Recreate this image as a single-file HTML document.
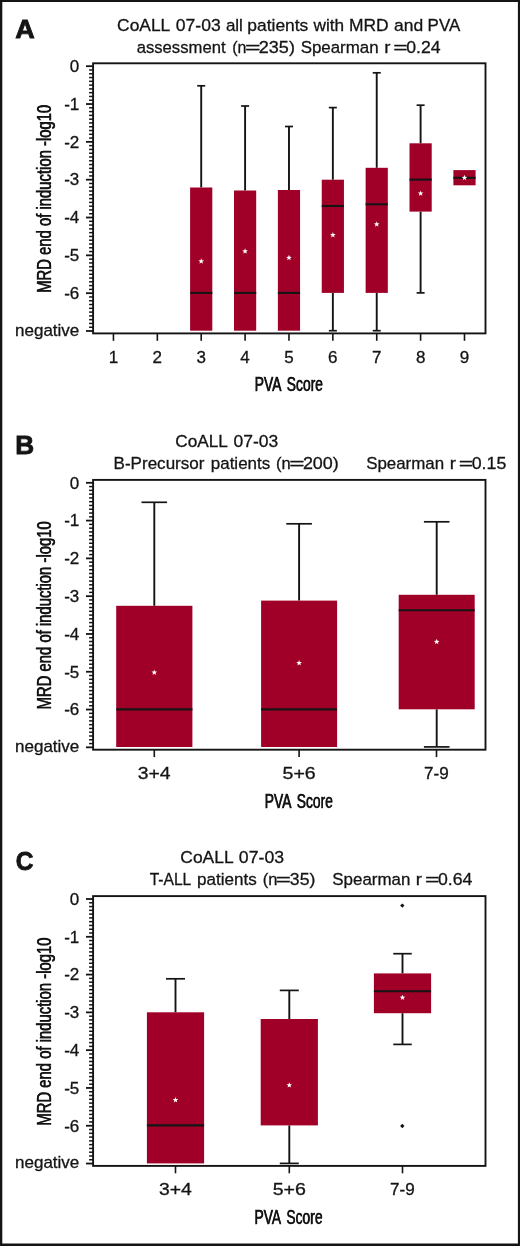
<!DOCTYPE html>
<html lang="en"><head><meta charset="utf-8"><title>Figure</title>
<style>
html,body{margin:0;padding:0;background:#fff}
svg text{stroke:#141414;stroke-width:0.3px}
.cl{position:absolute;left:0;top:0;transform-origin:0 0;line-height:1;white-space:nowrap;color:#141414;font-family:"Liberation Sans",Arial,Helvetica,sans-serif}
#fig{position:relative;width:520px;height:1246px;overflow:hidden}
svg{display:block;will-change:transform;font-family:"Liberation Sans",Arial,Helvetica,sans-serif}
</style></head><body>
<div id="fig">
<svg width="520" height="1246" viewBox="0 0 520 1246">
<rect x="0" y="0" width="520" height="1246" fill="#fff"/>
<path d="M0 0H520V1246H0Z M2.3 2H517.9V1243.5H2.3Z" fill="#141414" fill-rule="evenodd"/>
<rect x="93.1" y="63.30" width="392.40" height="270.10" fill="none" stroke="#141414" stroke-width="1.9"/>
<line x1="86.00" y1="66.20" x2="93.10" y2="66.20" stroke="#141414" stroke-width="1.8"/>
<text x="79.3" y="72.00" font-size="17.0" text-anchor="end" fill="#141414">0</text>
<line x1="89.10" y1="69.98" x2="93.10" y2="69.98" stroke="#141414" stroke-width="1.5"/>
<line x1="89.10" y1="73.77" x2="93.10" y2="73.77" stroke="#141414" stroke-width="1.5"/>
<line x1="89.10" y1="77.55" x2="93.10" y2="77.55" stroke="#141414" stroke-width="1.5"/>
<line x1="89.10" y1="81.33" x2="93.10" y2="81.33" stroke="#141414" stroke-width="1.5"/>
<line x1="89.10" y1="85.12" x2="93.10" y2="85.12" stroke="#141414" stroke-width="1.5"/>
<line x1="89.10" y1="88.90" x2="93.10" y2="88.90" stroke="#141414" stroke-width="1.5"/>
<line x1="89.10" y1="92.68" x2="93.10" y2="92.68" stroke="#141414" stroke-width="1.5"/>
<line x1="89.10" y1="96.46" x2="93.10" y2="96.46" stroke="#141414" stroke-width="1.5"/>
<line x1="89.10" y1="100.25" x2="93.10" y2="100.25" stroke="#141414" stroke-width="1.5"/>
<line x1="86.00" y1="104.03" x2="93.10" y2="104.03" stroke="#141414" stroke-width="1.8"/>
<text x="79.3" y="109.83" font-size="17.0" text-anchor="end" fill="#141414">-1</text>
<line x1="89.10" y1="107.81" x2="93.10" y2="107.81" stroke="#141414" stroke-width="1.5"/>
<line x1="89.10" y1="111.60" x2="93.10" y2="111.60" stroke="#141414" stroke-width="1.5"/>
<line x1="89.10" y1="115.38" x2="93.10" y2="115.38" stroke="#141414" stroke-width="1.5"/>
<line x1="89.10" y1="119.16" x2="93.10" y2="119.16" stroke="#141414" stroke-width="1.5"/>
<line x1="89.10" y1="122.94" x2="93.10" y2="122.94" stroke="#141414" stroke-width="1.5"/>
<line x1="89.10" y1="126.73" x2="93.10" y2="126.73" stroke="#141414" stroke-width="1.5"/>
<line x1="89.10" y1="130.51" x2="93.10" y2="130.51" stroke="#141414" stroke-width="1.5"/>
<line x1="89.10" y1="134.29" x2="93.10" y2="134.29" stroke="#141414" stroke-width="1.5"/>
<line x1="89.10" y1="138.08" x2="93.10" y2="138.08" stroke="#141414" stroke-width="1.5"/>
<line x1="86.00" y1="141.86" x2="93.10" y2="141.86" stroke="#141414" stroke-width="1.8"/>
<text x="79.3" y="147.66" font-size="17.0" text-anchor="end" fill="#141414">-2</text>
<line x1="89.10" y1="145.64" x2="93.10" y2="145.64" stroke="#141414" stroke-width="1.5"/>
<line x1="89.10" y1="149.43" x2="93.10" y2="149.43" stroke="#141414" stroke-width="1.5"/>
<line x1="89.10" y1="153.21" x2="93.10" y2="153.21" stroke="#141414" stroke-width="1.5"/>
<line x1="89.10" y1="156.99" x2="93.10" y2="156.99" stroke="#141414" stroke-width="1.5"/>
<line x1="89.10" y1="160.78" x2="93.10" y2="160.78" stroke="#141414" stroke-width="1.5"/>
<line x1="89.10" y1="164.56" x2="93.10" y2="164.56" stroke="#141414" stroke-width="1.5"/>
<line x1="89.10" y1="168.34" x2="93.10" y2="168.34" stroke="#141414" stroke-width="1.5"/>
<line x1="89.10" y1="172.12" x2="93.10" y2="172.12" stroke="#141414" stroke-width="1.5"/>
<line x1="89.10" y1="175.91" x2="93.10" y2="175.91" stroke="#141414" stroke-width="1.5"/>
<line x1="86.00" y1="179.69" x2="93.10" y2="179.69" stroke="#141414" stroke-width="1.8"/>
<text x="79.3" y="185.49" font-size="17.0" text-anchor="end" fill="#141414">-3</text>
<line x1="89.10" y1="183.47" x2="93.10" y2="183.47" stroke="#141414" stroke-width="1.5"/>
<line x1="89.10" y1="187.26" x2="93.10" y2="187.26" stroke="#141414" stroke-width="1.5"/>
<line x1="89.10" y1="191.04" x2="93.10" y2="191.04" stroke="#141414" stroke-width="1.5"/>
<line x1="89.10" y1="194.82" x2="93.10" y2="194.82" stroke="#141414" stroke-width="1.5"/>
<line x1="89.10" y1="198.60" x2="93.10" y2="198.60" stroke="#141414" stroke-width="1.5"/>
<line x1="89.10" y1="202.39" x2="93.10" y2="202.39" stroke="#141414" stroke-width="1.5"/>
<line x1="89.10" y1="206.17" x2="93.10" y2="206.17" stroke="#141414" stroke-width="1.5"/>
<line x1="89.10" y1="209.95" x2="93.10" y2="209.95" stroke="#141414" stroke-width="1.5"/>
<line x1="89.10" y1="213.74" x2="93.10" y2="213.74" stroke="#141414" stroke-width="1.5"/>
<line x1="86.00" y1="217.52" x2="93.10" y2="217.52" stroke="#141414" stroke-width="1.8"/>
<text x="79.3" y="223.32" font-size="17.0" text-anchor="end" fill="#141414">-4</text>
<line x1="89.10" y1="221.30" x2="93.10" y2="221.30" stroke="#141414" stroke-width="1.5"/>
<line x1="89.10" y1="225.09" x2="93.10" y2="225.09" stroke="#141414" stroke-width="1.5"/>
<line x1="89.10" y1="228.87" x2="93.10" y2="228.87" stroke="#141414" stroke-width="1.5"/>
<line x1="89.10" y1="232.65" x2="93.10" y2="232.65" stroke="#141414" stroke-width="1.5"/>
<line x1="89.10" y1="236.43" x2="93.10" y2="236.43" stroke="#141414" stroke-width="1.5"/>
<line x1="89.10" y1="240.22" x2="93.10" y2="240.22" stroke="#141414" stroke-width="1.5"/>
<line x1="89.10" y1="244.00" x2="93.10" y2="244.00" stroke="#141414" stroke-width="1.5"/>
<line x1="89.10" y1="247.78" x2="93.10" y2="247.78" stroke="#141414" stroke-width="1.5"/>
<line x1="89.10" y1="251.57" x2="93.10" y2="251.57" stroke="#141414" stroke-width="1.5"/>
<line x1="86.00" y1="255.35" x2="93.10" y2="255.35" stroke="#141414" stroke-width="1.8"/>
<text x="79.3" y="261.15" font-size="17.0" text-anchor="end" fill="#141414">-5</text>
<line x1="89.10" y1="259.13" x2="93.10" y2="259.13" stroke="#141414" stroke-width="1.5"/>
<line x1="89.10" y1="262.92" x2="93.10" y2="262.92" stroke="#141414" stroke-width="1.5"/>
<line x1="89.10" y1="266.70" x2="93.10" y2="266.70" stroke="#141414" stroke-width="1.5"/>
<line x1="89.10" y1="270.48" x2="93.10" y2="270.48" stroke="#141414" stroke-width="1.5"/>
<line x1="89.10" y1="274.26" x2="93.10" y2="274.26" stroke="#141414" stroke-width="1.5"/>
<line x1="89.10" y1="278.05" x2="93.10" y2="278.05" stroke="#141414" stroke-width="1.5"/>
<line x1="89.10" y1="281.83" x2="93.10" y2="281.83" stroke="#141414" stroke-width="1.5"/>
<line x1="89.10" y1="285.61" x2="93.10" y2="285.61" stroke="#141414" stroke-width="1.5"/>
<line x1="89.10" y1="289.40" x2="93.10" y2="289.40" stroke="#141414" stroke-width="1.5"/>
<line x1="86.00" y1="293.18" x2="93.10" y2="293.18" stroke="#141414" stroke-width="1.8"/>
<text x="79.3" y="298.98" font-size="17.0" text-anchor="end" fill="#141414">-6</text>
<line x1="89.10" y1="296.96" x2="93.10" y2="296.96" stroke="#141414" stroke-width="1.5"/>
<line x1="89.10" y1="300.75" x2="93.10" y2="300.75" stroke="#141414" stroke-width="1.5"/>
<line x1="89.10" y1="304.53" x2="93.10" y2="304.53" stroke="#141414" stroke-width="1.5"/>
<line x1="89.10" y1="308.31" x2="93.10" y2="308.31" stroke="#141414" stroke-width="1.5"/>
<line x1="89.10" y1="312.10" x2="93.10" y2="312.10" stroke="#141414" stroke-width="1.5"/>
<line x1="89.10" y1="315.88" x2="93.10" y2="315.88" stroke="#141414" stroke-width="1.5"/>
<line x1="89.10" y1="319.66" x2="93.10" y2="319.66" stroke="#141414" stroke-width="1.5"/>
<line x1="89.10" y1="323.44" x2="93.10" y2="323.44" stroke="#141414" stroke-width="1.5"/>
<line x1="89.10" y1="327.23" x2="93.10" y2="327.23" stroke="#141414" stroke-width="1.5"/>
<line x1="86.00" y1="331.01" x2="93.10" y2="331.01" stroke="#141414" stroke-width="1.8"/>
<text x="79.3" y="335.81" font-size="17.0" text-anchor="end" fill="#141414">negative</text>
<line x1="113.45" y1="333.40" x2="113.45" y2="340.80" stroke="#141414" stroke-width="1.6"/>
<text x="113.45" y="362.60" font-size="17.0" text-anchor="middle" fill="#141414">1</text>
<line x1="157.33" y1="333.40" x2="157.33" y2="340.80" stroke="#141414" stroke-width="1.6"/>
<text x="157.33" y="362.60" font-size="17.0" text-anchor="middle" fill="#141414">2</text>
<line x1="201.21" y1="333.40" x2="201.21" y2="340.80" stroke="#141414" stroke-width="1.6"/>
<text x="201.21" y="362.60" font-size="17.0" text-anchor="middle" fill="#141414">3</text>
<line x1="245.09" y1="333.40" x2="245.09" y2="340.80" stroke="#141414" stroke-width="1.6"/>
<text x="245.09" y="362.60" font-size="17.0" text-anchor="middle" fill="#141414">4</text>
<line x1="288.97" y1="333.40" x2="288.97" y2="340.80" stroke="#141414" stroke-width="1.6"/>
<text x="288.97" y="362.60" font-size="17.0" text-anchor="middle" fill="#141414">5</text>
<line x1="332.85" y1="333.40" x2="332.85" y2="340.80" stroke="#141414" stroke-width="1.6"/>
<text x="332.85" y="362.60" font-size="17.0" text-anchor="middle" fill="#141414">6</text>
<line x1="376.73" y1="333.40" x2="376.73" y2="340.80" stroke="#141414" stroke-width="1.6"/>
<text x="376.73" y="362.60" font-size="17.0" text-anchor="middle" fill="#141414">7</text>
<line x1="420.61" y1="333.40" x2="420.61" y2="340.80" stroke="#141414" stroke-width="1.6"/>
<text x="420.61" y="362.60" font-size="17.0" text-anchor="middle" fill="#141414">8</text>
<line x1="464.49" y1="333.40" x2="464.49" y2="340.80" stroke="#141414" stroke-width="1.6"/>
<text x="464.49" y="362.60" font-size="17.0" text-anchor="middle" fill="#141414">9</text>
<line x1="201.21" y1="85.80" x2="201.21" y2="187.50" stroke="#141414" stroke-width="1.9"/>
<line x1="197.21" y1="85.80" x2="205.21" y2="85.80" stroke="#141414" stroke-width="1.7"/>
<rect x="190.11" y="187.50" width="22.20" height="143.20" fill="#a00028"/>
<line x1="190.11" y1="292.90" x2="212.31" y2="292.90" stroke="#141414" stroke-width="2.1"/>
<polygon points="201.21,258.35 201.94,260.30 204.02,260.39 202.39,261.68 202.94,263.69 201.21,262.54 199.48,263.69 200.03,261.68 198.40,260.39 200.48,260.30" fill="#fff"/>
<line x1="245.09" y1="106.00" x2="245.09" y2="190.50" stroke="#141414" stroke-width="1.9"/>
<line x1="241.09" y1="106.00" x2="249.09" y2="106.00" stroke="#141414" stroke-width="1.7"/>
<rect x="233.99" y="190.50" width="22.20" height="140.20" fill="#a00028"/>
<line x1="233.99" y1="292.90" x2="256.19" y2="292.90" stroke="#141414" stroke-width="2.1"/>
<polygon points="245.09,248.35 245.82,250.30 247.90,250.39 246.27,251.68 246.82,253.69 245.09,252.54 243.36,253.69 243.91,251.68 242.28,250.39 244.36,250.30" fill="#fff"/>
<line x1="288.97" y1="126.50" x2="288.97" y2="190.00" stroke="#141414" stroke-width="1.9"/>
<line x1="284.97" y1="126.50" x2="292.97" y2="126.50" stroke="#141414" stroke-width="1.7"/>
<rect x="277.87" y="190.00" width="22.20" height="140.70" fill="#a00028"/>
<line x1="277.87" y1="292.90" x2="300.07" y2="292.90" stroke="#141414" stroke-width="2.1"/>
<polygon points="288.97,254.85 289.70,256.80 291.78,256.89 290.15,258.18 290.70,260.19 288.97,259.04 287.24,260.19 287.79,258.18 286.16,256.89 288.24,256.80" fill="#fff"/>
<line x1="332.85" y1="107.60" x2="332.85" y2="179.70" stroke="#141414" stroke-width="1.9"/>
<line x1="328.85" y1="107.60" x2="336.85" y2="107.60" stroke="#141414" stroke-width="1.7"/>
<line x1="332.85" y1="292.90" x2="332.85" y2="330.70" stroke="#141414" stroke-width="1.9"/>
<line x1="328.85" y1="330.70" x2="336.85" y2="330.70" stroke="#141414" stroke-width="1.7"/>
<rect x="321.75" y="179.70" width="22.20" height="113.20" fill="#a00028"/>
<line x1="321.75" y1="206.00" x2="343.95" y2="206.00" stroke="#141414" stroke-width="2.1"/>
<polygon points="332.85,232.05 333.58,234.00 335.66,234.09 334.03,235.38 334.58,237.39 332.85,236.24 331.12,237.39 331.67,235.38 330.04,234.09 332.12,234.00" fill="#fff"/>
<line x1="376.73" y1="72.80" x2="376.73" y2="167.80" stroke="#141414" stroke-width="1.9"/>
<line x1="372.73" y1="72.80" x2="380.73" y2="72.80" stroke="#141414" stroke-width="1.7"/>
<line x1="376.73" y1="292.90" x2="376.73" y2="330.70" stroke="#141414" stroke-width="1.9"/>
<line x1="372.73" y1="330.70" x2="380.73" y2="330.70" stroke="#141414" stroke-width="1.7"/>
<rect x="365.63" y="167.80" width="22.20" height="125.10" fill="#a00028"/>
<line x1="365.63" y1="204.30" x2="387.83" y2="204.30" stroke="#141414" stroke-width="2.1"/>
<polygon points="376.73,221.35 377.46,223.30 379.54,223.39 377.91,224.68 378.46,226.69 376.73,225.54 375.00,226.69 375.55,224.68 373.92,223.39 376.00,223.30" fill="#fff"/>
<line x1="420.61" y1="105.20" x2="420.61" y2="143.30" stroke="#141414" stroke-width="1.9"/>
<line x1="416.61" y1="105.20" x2="424.61" y2="105.20" stroke="#141414" stroke-width="1.7"/>
<line x1="420.61" y1="211.60" x2="420.61" y2="292.90" stroke="#141414" stroke-width="1.9"/>
<line x1="416.61" y1="292.90" x2="424.61" y2="292.90" stroke="#141414" stroke-width="1.7"/>
<rect x="409.51" y="143.30" width="22.20" height="68.30" fill="#a00028"/>
<line x1="409.51" y1="179.60" x2="431.71" y2="179.60" stroke="#141414" stroke-width="2.1"/>
<polygon points="420.61,190.45 421.34,192.40 423.42,192.49 421.79,193.78 422.34,195.79 420.61,194.64 418.88,195.79 419.43,193.78 417.80,192.49 419.88,192.40" fill="#fff"/>
<rect x="453.39" y="170.10" width="22.20" height="15.20" fill="#a00028"/>
<line x1="453.39" y1="177.80" x2="475.59" y2="177.80" stroke="#141414" stroke-width="2.1"/>
<polygon points="464.49,174.85 465.22,176.80 467.30,176.89 465.67,178.18 466.22,180.19 464.49,179.04 462.76,180.19 463.31,178.18 461.68,176.89 463.76,176.80" fill="#fff"/>
<text x="117.13" y="31.00" font-size="17.2" textLength="53.14" lengthAdjust="spacingAndGlyphs" fill="#141414">CoALL</text>
<text x="175.84" y="31.00" font-size="17.2" textLength="44.91" lengthAdjust="spacingAndGlyphs" fill="#141414">07-03</text>
<text x="225.88" y="31.00" font-size="17.2" textLength="16.98" lengthAdjust="spacingAndGlyphs" fill="#141414">all</text>
<text x="247.37" y="31.00" font-size="17.2" textLength="60.94" lengthAdjust="spacingAndGlyphs" fill="#141414">patients</text>
<text x="313.44" y="31.00" font-size="17.2" textLength="30.65" lengthAdjust="spacingAndGlyphs" fill="#141414">with</text>
<text x="348.96" y="31.00" font-size="17.2" textLength="39.77" lengthAdjust="spacingAndGlyphs" fill="#141414">MRD</text>
<text x="393.96" y="31.00" font-size="17.2" textLength="29.15" lengthAdjust="spacingAndGlyphs" fill="#141414">and</text>
<text x="427.60" y="31.00" font-size="17.2" textLength="32.63" lengthAdjust="spacingAndGlyphs" fill="#141414">PVA</text>
<text x="136.69" y="53.00" font-size="17.2" textLength="88.84" lengthAdjust="spacingAndGlyphs" fill="#141414">assessment</text>
<text x="232.20" y="53.00" font-size="17.2" textLength="14.23" lengthAdjust="spacingAndGlyphs" fill="#141414">(n</text>
<text x="244.93" y="53.00" font-size="17.2" textLength="15.57" lengthAdjust="spacingAndGlyphs" fill="#141414">=</text>
<text x="258.80" y="53.00" font-size="17.2" textLength="36.11" lengthAdjust="spacingAndGlyphs" fill="#141414">235)</text>
<text x="300.64" y="53.00" font-size="17.2" textLength="78.04" lengthAdjust="spacingAndGlyphs" fill="#141414">Spearman</text>
<text x="393.23" y="53.00" font-size="17.2" textLength="14.38" lengthAdjust="spacingAndGlyphs" fill="#141414">=</text>
<text x="406.24" y="53.00" font-size="17.2" textLength="34.37" lengthAdjust="spacingAndGlyphs" fill="#141414">0.24</text>
<text x="384.15" y="53.00" font-size="17.2" textLength="6.19" lengthAdjust="spacingAndGlyphs" fill="#141414">r</text>
<rect x="93.1" y="479.90" width="392.40" height="269.80" fill="none" stroke="#141414" stroke-width="1.9"/>
<line x1="86.00" y1="482.80" x2="93.10" y2="482.80" stroke="#141414" stroke-width="1.8"/>
<text x="79.3" y="488.60" font-size="17.0" text-anchor="end" fill="#141414">0</text>
<line x1="89.10" y1="486.58" x2="93.10" y2="486.58" stroke="#141414" stroke-width="1.5"/>
<line x1="89.10" y1="490.36" x2="93.10" y2="490.36" stroke="#141414" stroke-width="1.5"/>
<line x1="89.10" y1="494.14" x2="93.10" y2="494.14" stroke="#141414" stroke-width="1.5"/>
<line x1="89.10" y1="497.92" x2="93.10" y2="497.92" stroke="#141414" stroke-width="1.5"/>
<line x1="89.10" y1="501.69" x2="93.10" y2="501.69" stroke="#141414" stroke-width="1.5"/>
<line x1="89.10" y1="505.47" x2="93.10" y2="505.47" stroke="#141414" stroke-width="1.5"/>
<line x1="89.10" y1="509.25" x2="93.10" y2="509.25" stroke="#141414" stroke-width="1.5"/>
<line x1="89.10" y1="513.03" x2="93.10" y2="513.03" stroke="#141414" stroke-width="1.5"/>
<line x1="89.10" y1="516.81" x2="93.10" y2="516.81" stroke="#141414" stroke-width="1.5"/>
<line x1="86.00" y1="520.59" x2="93.10" y2="520.59" stroke="#141414" stroke-width="1.8"/>
<text x="79.3" y="526.39" font-size="17.0" text-anchor="end" fill="#141414">-1</text>
<line x1="89.10" y1="524.37" x2="93.10" y2="524.37" stroke="#141414" stroke-width="1.5"/>
<line x1="89.10" y1="528.15" x2="93.10" y2="528.15" stroke="#141414" stroke-width="1.5"/>
<line x1="89.10" y1="531.93" x2="93.10" y2="531.93" stroke="#141414" stroke-width="1.5"/>
<line x1="89.10" y1="535.71" x2="93.10" y2="535.71" stroke="#141414" stroke-width="1.5"/>
<line x1="89.10" y1="539.49" x2="93.10" y2="539.49" stroke="#141414" stroke-width="1.5"/>
<line x1="89.10" y1="543.26" x2="93.10" y2="543.26" stroke="#141414" stroke-width="1.5"/>
<line x1="89.10" y1="547.04" x2="93.10" y2="547.04" stroke="#141414" stroke-width="1.5"/>
<line x1="89.10" y1="550.82" x2="93.10" y2="550.82" stroke="#141414" stroke-width="1.5"/>
<line x1="89.10" y1="554.60" x2="93.10" y2="554.60" stroke="#141414" stroke-width="1.5"/>
<line x1="86.00" y1="558.38" x2="93.10" y2="558.38" stroke="#141414" stroke-width="1.8"/>
<text x="79.3" y="564.18" font-size="17.0" text-anchor="end" fill="#141414">-2</text>
<line x1="89.10" y1="562.16" x2="93.10" y2="562.16" stroke="#141414" stroke-width="1.5"/>
<line x1="89.10" y1="565.94" x2="93.10" y2="565.94" stroke="#141414" stroke-width="1.5"/>
<line x1="89.10" y1="569.72" x2="93.10" y2="569.72" stroke="#141414" stroke-width="1.5"/>
<line x1="89.10" y1="573.50" x2="93.10" y2="573.50" stroke="#141414" stroke-width="1.5"/>
<line x1="89.10" y1="577.27" x2="93.10" y2="577.27" stroke="#141414" stroke-width="1.5"/>
<line x1="89.10" y1="581.05" x2="93.10" y2="581.05" stroke="#141414" stroke-width="1.5"/>
<line x1="89.10" y1="584.83" x2="93.10" y2="584.83" stroke="#141414" stroke-width="1.5"/>
<line x1="89.10" y1="588.61" x2="93.10" y2="588.61" stroke="#141414" stroke-width="1.5"/>
<line x1="89.10" y1="592.39" x2="93.10" y2="592.39" stroke="#141414" stroke-width="1.5"/>
<line x1="86.00" y1="596.17" x2="93.10" y2="596.17" stroke="#141414" stroke-width="1.8"/>
<text x="79.3" y="601.97" font-size="17.0" text-anchor="end" fill="#141414">-3</text>
<line x1="89.10" y1="599.95" x2="93.10" y2="599.95" stroke="#141414" stroke-width="1.5"/>
<line x1="89.10" y1="603.73" x2="93.10" y2="603.73" stroke="#141414" stroke-width="1.5"/>
<line x1="89.10" y1="607.51" x2="93.10" y2="607.51" stroke="#141414" stroke-width="1.5"/>
<line x1="89.10" y1="611.29" x2="93.10" y2="611.29" stroke="#141414" stroke-width="1.5"/>
<line x1="89.10" y1="615.07" x2="93.10" y2="615.07" stroke="#141414" stroke-width="1.5"/>
<line x1="89.10" y1="618.84" x2="93.10" y2="618.84" stroke="#141414" stroke-width="1.5"/>
<line x1="89.10" y1="622.62" x2="93.10" y2="622.62" stroke="#141414" stroke-width="1.5"/>
<line x1="89.10" y1="626.40" x2="93.10" y2="626.40" stroke="#141414" stroke-width="1.5"/>
<line x1="89.10" y1="630.18" x2="93.10" y2="630.18" stroke="#141414" stroke-width="1.5"/>
<line x1="86.00" y1="633.96" x2="93.10" y2="633.96" stroke="#141414" stroke-width="1.8"/>
<text x="79.3" y="639.76" font-size="17.0" text-anchor="end" fill="#141414">-4</text>
<line x1="89.10" y1="637.74" x2="93.10" y2="637.74" stroke="#141414" stroke-width="1.5"/>
<line x1="89.10" y1="641.52" x2="93.10" y2="641.52" stroke="#141414" stroke-width="1.5"/>
<line x1="89.10" y1="645.30" x2="93.10" y2="645.30" stroke="#141414" stroke-width="1.5"/>
<line x1="89.10" y1="649.08" x2="93.10" y2="649.08" stroke="#141414" stroke-width="1.5"/>
<line x1="89.10" y1="652.86" x2="93.10" y2="652.86" stroke="#141414" stroke-width="1.5"/>
<line x1="89.10" y1="656.63" x2="93.10" y2="656.63" stroke="#141414" stroke-width="1.5"/>
<line x1="89.10" y1="660.41" x2="93.10" y2="660.41" stroke="#141414" stroke-width="1.5"/>
<line x1="89.10" y1="664.19" x2="93.10" y2="664.19" stroke="#141414" stroke-width="1.5"/>
<line x1="89.10" y1="667.97" x2="93.10" y2="667.97" stroke="#141414" stroke-width="1.5"/>
<line x1="86.00" y1="671.75" x2="93.10" y2="671.75" stroke="#141414" stroke-width="1.8"/>
<text x="79.3" y="677.55" font-size="17.0" text-anchor="end" fill="#141414">-5</text>
<line x1="89.10" y1="675.53" x2="93.10" y2="675.53" stroke="#141414" stroke-width="1.5"/>
<line x1="89.10" y1="679.31" x2="93.10" y2="679.31" stroke="#141414" stroke-width="1.5"/>
<line x1="89.10" y1="683.09" x2="93.10" y2="683.09" stroke="#141414" stroke-width="1.5"/>
<line x1="89.10" y1="686.87" x2="93.10" y2="686.87" stroke="#141414" stroke-width="1.5"/>
<line x1="89.10" y1="690.64" x2="93.10" y2="690.64" stroke="#141414" stroke-width="1.5"/>
<line x1="89.10" y1="694.42" x2="93.10" y2="694.42" stroke="#141414" stroke-width="1.5"/>
<line x1="89.10" y1="698.20" x2="93.10" y2="698.20" stroke="#141414" stroke-width="1.5"/>
<line x1="89.10" y1="701.98" x2="93.10" y2="701.98" stroke="#141414" stroke-width="1.5"/>
<line x1="89.10" y1="705.76" x2="93.10" y2="705.76" stroke="#141414" stroke-width="1.5"/>
<line x1="86.00" y1="709.54" x2="93.10" y2="709.54" stroke="#141414" stroke-width="1.8"/>
<text x="79.3" y="715.34" font-size="17.0" text-anchor="end" fill="#141414">-6</text>
<line x1="89.10" y1="713.32" x2="93.10" y2="713.32" stroke="#141414" stroke-width="1.5"/>
<line x1="89.10" y1="717.10" x2="93.10" y2="717.10" stroke="#141414" stroke-width="1.5"/>
<line x1="89.10" y1="720.88" x2="93.10" y2="720.88" stroke="#141414" stroke-width="1.5"/>
<line x1="89.10" y1="724.66" x2="93.10" y2="724.66" stroke="#141414" stroke-width="1.5"/>
<line x1="89.10" y1="728.43" x2="93.10" y2="728.43" stroke="#141414" stroke-width="1.5"/>
<line x1="89.10" y1="732.21" x2="93.10" y2="732.21" stroke="#141414" stroke-width="1.5"/>
<line x1="89.10" y1="735.99" x2="93.10" y2="735.99" stroke="#141414" stroke-width="1.5"/>
<line x1="89.10" y1="739.77" x2="93.10" y2="739.77" stroke="#141414" stroke-width="1.5"/>
<line x1="89.10" y1="743.55" x2="93.10" y2="743.55" stroke="#141414" stroke-width="1.5"/>
<line x1="86.00" y1="747.33" x2="93.10" y2="747.33" stroke="#141414" stroke-width="1.8"/>
<text x="79.3" y="752.13" font-size="17.0" text-anchor="end" fill="#141414">negative</text>
<line x1="154.30" y1="749.70" x2="154.30" y2="757.10" stroke="#141414" stroke-width="1.6"/>
<text x="137.77" y="779.20" font-size="17.0" textLength="32.89" lengthAdjust="spacingAndGlyphs" fill="#141414">3+4</text>
<line x1="299.10" y1="749.70" x2="299.10" y2="757.10" stroke="#141414" stroke-width="1.6"/>
<text x="282.52" y="779.20" font-size="17.0" textLength="33.24" lengthAdjust="spacingAndGlyphs" fill="#141414">5+6</text>
<line x1="436.50" y1="749.70" x2="436.50" y2="757.10" stroke="#141414" stroke-width="1.6"/>
<text x="424.09" y="779.20" font-size="17.0" textLength="24.73" lengthAdjust="spacingAndGlyphs" fill="#141414">7-9</text>
<line x1="154.30" y1="502.30" x2="154.30" y2="605.80" stroke="#141414" stroke-width="1.9"/>
<line x1="141.50" y1="502.30" x2="167.10" y2="502.30" stroke="#141414" stroke-width="1.7"/>
<rect x="116.20" y="605.80" width="76.20" height="141.20" fill="#a00028"/>
<line x1="116.20" y1="709.40" x2="192.40" y2="709.40" stroke="#141414" stroke-width="2.1"/>
<polygon points="154.30,669.55 155.03,671.50 157.11,671.59 155.48,672.88 156.03,674.89 154.30,673.74 152.57,674.89 153.12,672.88 151.49,671.59 153.57,671.50" fill="#fff"/>
<line x1="299.10" y1="523.80" x2="299.10" y2="600.60" stroke="#141414" stroke-width="1.9"/>
<line x1="286.30" y1="523.80" x2="311.90" y2="523.80" stroke="#141414" stroke-width="1.7"/>
<rect x="261.10" y="600.60" width="76.00" height="146.40" fill="#a00028"/>
<line x1="261.10" y1="709.40" x2="337.10" y2="709.40" stroke="#141414" stroke-width="2.1"/>
<polygon points="299.10,660.05 299.83,662.00 301.91,662.09 300.28,663.38 300.83,665.39 299.10,664.24 297.37,665.39 297.92,663.38 296.29,662.09 298.37,662.00" fill="#fff"/>
<line x1="436.70" y1="521.80" x2="436.70" y2="594.80" stroke="#141414" stroke-width="1.9"/>
<line x1="423.90" y1="521.80" x2="449.50" y2="521.80" stroke="#141414" stroke-width="1.7"/>
<line x1="436.70" y1="709.30" x2="436.70" y2="746.90" stroke="#141414" stroke-width="1.9"/>
<line x1="423.90" y1="746.90" x2="449.50" y2="746.90" stroke="#141414" stroke-width="1.7"/>
<rect x="398.70" y="594.80" width="76.00" height="114.50" fill="#a00028"/>
<line x1="398.70" y1="610.30" x2="474.70" y2="610.30" stroke="#141414" stroke-width="2.1"/>
<polygon points="436.70,638.85 437.43,640.80 439.51,640.89 437.88,642.18 438.43,644.19 436.70,643.04 434.97,644.19 435.52,642.18 433.89,640.89 435.97,640.80" fill="#fff"/>
<text x="175.24" y="447.00" font-size="17.2" textLength="52.62" lengthAdjust="spacingAndGlyphs" fill="#141414">CoALL</text>
<text x="233.54" y="447.00" font-size="17.2" textLength="44.80" lengthAdjust="spacingAndGlyphs" fill="#141414">07-03</text>
<text x="113.59" y="469.00" font-size="17.2" textLength="90.85" lengthAdjust="spacingAndGlyphs" fill="#141414">B-Precursor</text>
<text x="210.80" y="469.00" font-size="17.2" textLength="59.40" lengthAdjust="spacingAndGlyphs" fill="#141414">patients</text>
<text x="275.97" y="469.00" font-size="17.2" textLength="14.69" lengthAdjust="spacingAndGlyphs" fill="#141414">(n</text>
<text x="289.15" y="469.00" font-size="17.2" textLength="15.33" lengthAdjust="spacingAndGlyphs" fill="#141414">=</text>
<text x="302.90" y="469.00" font-size="17.2" textLength="35.90" lengthAdjust="spacingAndGlyphs" fill="#141414">200)</text>
<text x="366.14" y="469.00" font-size="17.2" textLength="78.04" lengthAdjust="spacingAndGlyphs" fill="#141414">Spearman</text>
<text x="458.73" y="469.00" font-size="17.2" textLength="14.38" lengthAdjust="spacingAndGlyphs" fill="#141414">=</text>
<text x="471.73" y="469.00" font-size="17.2" textLength="34.60" lengthAdjust="spacingAndGlyphs" fill="#141414">0.15</text>
<text x="449.65" y="469.00" font-size="17.2" textLength="6.19" lengthAdjust="spacingAndGlyphs" fill="#141414">r</text>
<rect x="93.1" y="896.10" width="392.40" height="269.80" fill="none" stroke="#141414" stroke-width="1.9"/>
<line x1="86.00" y1="899.00" x2="93.10" y2="899.00" stroke="#141414" stroke-width="1.8"/>
<text x="79.3" y="904.80" font-size="17.0" text-anchor="end" fill="#141414">0</text>
<line x1="89.10" y1="902.78" x2="93.10" y2="902.78" stroke="#141414" stroke-width="1.5"/>
<line x1="89.10" y1="906.56" x2="93.10" y2="906.56" stroke="#141414" stroke-width="1.5"/>
<line x1="89.10" y1="910.34" x2="93.10" y2="910.34" stroke="#141414" stroke-width="1.5"/>
<line x1="89.10" y1="914.12" x2="93.10" y2="914.12" stroke="#141414" stroke-width="1.5"/>
<line x1="89.10" y1="917.89" x2="93.10" y2="917.89" stroke="#141414" stroke-width="1.5"/>
<line x1="89.10" y1="921.67" x2="93.10" y2="921.67" stroke="#141414" stroke-width="1.5"/>
<line x1="89.10" y1="925.45" x2="93.10" y2="925.45" stroke="#141414" stroke-width="1.5"/>
<line x1="89.10" y1="929.23" x2="93.10" y2="929.23" stroke="#141414" stroke-width="1.5"/>
<line x1="89.10" y1="933.01" x2="93.10" y2="933.01" stroke="#141414" stroke-width="1.5"/>
<line x1="86.00" y1="936.79" x2="93.10" y2="936.79" stroke="#141414" stroke-width="1.8"/>
<text x="79.3" y="942.59" font-size="17.0" text-anchor="end" fill="#141414">-1</text>
<line x1="89.10" y1="940.57" x2="93.10" y2="940.57" stroke="#141414" stroke-width="1.5"/>
<line x1="89.10" y1="944.35" x2="93.10" y2="944.35" stroke="#141414" stroke-width="1.5"/>
<line x1="89.10" y1="948.13" x2="93.10" y2="948.13" stroke="#141414" stroke-width="1.5"/>
<line x1="89.10" y1="951.91" x2="93.10" y2="951.91" stroke="#141414" stroke-width="1.5"/>
<line x1="89.10" y1="955.68" x2="93.10" y2="955.68" stroke="#141414" stroke-width="1.5"/>
<line x1="89.10" y1="959.46" x2="93.10" y2="959.46" stroke="#141414" stroke-width="1.5"/>
<line x1="89.10" y1="963.24" x2="93.10" y2="963.24" stroke="#141414" stroke-width="1.5"/>
<line x1="89.10" y1="967.02" x2="93.10" y2="967.02" stroke="#141414" stroke-width="1.5"/>
<line x1="89.10" y1="970.80" x2="93.10" y2="970.80" stroke="#141414" stroke-width="1.5"/>
<line x1="86.00" y1="974.58" x2="93.10" y2="974.58" stroke="#141414" stroke-width="1.8"/>
<text x="79.3" y="980.38" font-size="17.0" text-anchor="end" fill="#141414">-2</text>
<line x1="89.10" y1="978.36" x2="93.10" y2="978.36" stroke="#141414" stroke-width="1.5"/>
<line x1="89.10" y1="982.14" x2="93.10" y2="982.14" stroke="#141414" stroke-width="1.5"/>
<line x1="89.10" y1="985.92" x2="93.10" y2="985.92" stroke="#141414" stroke-width="1.5"/>
<line x1="89.10" y1="989.70" x2="93.10" y2="989.70" stroke="#141414" stroke-width="1.5"/>
<line x1="89.10" y1="993.48" x2="93.10" y2="993.48" stroke="#141414" stroke-width="1.5"/>
<line x1="89.10" y1="997.25" x2="93.10" y2="997.25" stroke="#141414" stroke-width="1.5"/>
<line x1="89.10" y1="1001.03" x2="93.10" y2="1001.03" stroke="#141414" stroke-width="1.5"/>
<line x1="89.10" y1="1004.81" x2="93.10" y2="1004.81" stroke="#141414" stroke-width="1.5"/>
<line x1="89.10" y1="1008.59" x2="93.10" y2="1008.59" stroke="#141414" stroke-width="1.5"/>
<line x1="86.00" y1="1012.37" x2="93.10" y2="1012.37" stroke="#141414" stroke-width="1.8"/>
<text x="79.3" y="1018.17" font-size="17.0" text-anchor="end" fill="#141414">-3</text>
<line x1="89.10" y1="1016.15" x2="93.10" y2="1016.15" stroke="#141414" stroke-width="1.5"/>
<line x1="89.10" y1="1019.93" x2="93.10" y2="1019.93" stroke="#141414" stroke-width="1.5"/>
<line x1="89.10" y1="1023.71" x2="93.10" y2="1023.71" stroke="#141414" stroke-width="1.5"/>
<line x1="89.10" y1="1027.49" x2="93.10" y2="1027.49" stroke="#141414" stroke-width="1.5"/>
<line x1="89.10" y1="1031.27" x2="93.10" y2="1031.27" stroke="#141414" stroke-width="1.5"/>
<line x1="89.10" y1="1035.04" x2="93.10" y2="1035.04" stroke="#141414" stroke-width="1.5"/>
<line x1="89.10" y1="1038.82" x2="93.10" y2="1038.82" stroke="#141414" stroke-width="1.5"/>
<line x1="89.10" y1="1042.60" x2="93.10" y2="1042.60" stroke="#141414" stroke-width="1.5"/>
<line x1="89.10" y1="1046.38" x2="93.10" y2="1046.38" stroke="#141414" stroke-width="1.5"/>
<line x1="86.00" y1="1050.16" x2="93.10" y2="1050.16" stroke="#141414" stroke-width="1.8"/>
<text x="79.3" y="1055.96" font-size="17.0" text-anchor="end" fill="#141414">-4</text>
<line x1="89.10" y1="1053.94" x2="93.10" y2="1053.94" stroke="#141414" stroke-width="1.5"/>
<line x1="89.10" y1="1057.72" x2="93.10" y2="1057.72" stroke="#141414" stroke-width="1.5"/>
<line x1="89.10" y1="1061.50" x2="93.10" y2="1061.50" stroke="#141414" stroke-width="1.5"/>
<line x1="89.10" y1="1065.28" x2="93.10" y2="1065.28" stroke="#141414" stroke-width="1.5"/>
<line x1="89.10" y1="1069.06" x2="93.10" y2="1069.06" stroke="#141414" stroke-width="1.5"/>
<line x1="89.10" y1="1072.83" x2="93.10" y2="1072.83" stroke="#141414" stroke-width="1.5"/>
<line x1="89.10" y1="1076.61" x2="93.10" y2="1076.61" stroke="#141414" stroke-width="1.5"/>
<line x1="89.10" y1="1080.39" x2="93.10" y2="1080.39" stroke="#141414" stroke-width="1.5"/>
<line x1="89.10" y1="1084.17" x2="93.10" y2="1084.17" stroke="#141414" stroke-width="1.5"/>
<line x1="86.00" y1="1087.95" x2="93.10" y2="1087.95" stroke="#141414" stroke-width="1.8"/>
<text x="79.3" y="1093.75" font-size="17.0" text-anchor="end" fill="#141414">-5</text>
<line x1="89.10" y1="1091.73" x2="93.10" y2="1091.73" stroke="#141414" stroke-width="1.5"/>
<line x1="89.10" y1="1095.51" x2="93.10" y2="1095.51" stroke="#141414" stroke-width="1.5"/>
<line x1="89.10" y1="1099.29" x2="93.10" y2="1099.29" stroke="#141414" stroke-width="1.5"/>
<line x1="89.10" y1="1103.07" x2="93.10" y2="1103.07" stroke="#141414" stroke-width="1.5"/>
<line x1="89.10" y1="1106.85" x2="93.10" y2="1106.85" stroke="#141414" stroke-width="1.5"/>
<line x1="89.10" y1="1110.62" x2="93.10" y2="1110.62" stroke="#141414" stroke-width="1.5"/>
<line x1="89.10" y1="1114.40" x2="93.10" y2="1114.40" stroke="#141414" stroke-width="1.5"/>
<line x1="89.10" y1="1118.18" x2="93.10" y2="1118.18" stroke="#141414" stroke-width="1.5"/>
<line x1="89.10" y1="1121.96" x2="93.10" y2="1121.96" stroke="#141414" stroke-width="1.5"/>
<line x1="86.00" y1="1125.74" x2="93.10" y2="1125.74" stroke="#141414" stroke-width="1.8"/>
<text x="79.3" y="1131.54" font-size="17.0" text-anchor="end" fill="#141414">-6</text>
<line x1="89.10" y1="1129.52" x2="93.10" y2="1129.52" stroke="#141414" stroke-width="1.5"/>
<line x1="89.10" y1="1133.30" x2="93.10" y2="1133.30" stroke="#141414" stroke-width="1.5"/>
<line x1="89.10" y1="1137.08" x2="93.10" y2="1137.08" stroke="#141414" stroke-width="1.5"/>
<line x1="89.10" y1="1140.86" x2="93.10" y2="1140.86" stroke="#141414" stroke-width="1.5"/>
<line x1="89.10" y1="1144.63" x2="93.10" y2="1144.63" stroke="#141414" stroke-width="1.5"/>
<line x1="89.10" y1="1148.41" x2="93.10" y2="1148.41" stroke="#141414" stroke-width="1.5"/>
<line x1="89.10" y1="1152.19" x2="93.10" y2="1152.19" stroke="#141414" stroke-width="1.5"/>
<line x1="89.10" y1="1155.97" x2="93.10" y2="1155.97" stroke="#141414" stroke-width="1.5"/>
<line x1="89.10" y1="1159.75" x2="93.10" y2="1159.75" stroke="#141414" stroke-width="1.5"/>
<line x1="86.00" y1="1163.53" x2="93.10" y2="1163.53" stroke="#141414" stroke-width="1.8"/>
<text x="79.3" y="1168.33" font-size="17.0" text-anchor="end" fill="#141414">negative</text>
<line x1="175.50" y1="1165.90" x2="175.50" y2="1173.30" stroke="#141414" stroke-width="1.6"/>
<text x="158.97" y="1195.40" font-size="17.0" textLength="32.89" lengthAdjust="spacingAndGlyphs" fill="#141414">3+4</text>
<line x1="289.30" y1="1165.90" x2="289.30" y2="1173.30" stroke="#141414" stroke-width="1.6"/>
<text x="272.72" y="1195.40" font-size="17.0" textLength="33.24" lengthAdjust="spacingAndGlyphs" fill="#141414">5+6</text>
<line x1="402.50" y1="1165.90" x2="402.50" y2="1173.30" stroke="#141414" stroke-width="1.6"/>
<text x="390.09" y="1195.40" font-size="17.0" textLength="24.73" lengthAdjust="spacingAndGlyphs" fill="#141414">7-9</text>
<line x1="175.50" y1="978.80" x2="175.50" y2="1012.30" stroke="#141414" stroke-width="1.9"/>
<line x1="166.00" y1="978.80" x2="185.00" y2="978.80" stroke="#141414" stroke-width="1.7"/>
<rect x="146.90" y="1012.30" width="57.20" height="151.10" fill="#a00028"/>
<line x1="146.90" y1="1125.40" x2="204.10" y2="1125.40" stroke="#141414" stroke-width="2.1"/>
<polygon points="175.50,1097.05 176.23,1099.00 178.31,1099.09 176.68,1100.38 177.23,1102.39 175.50,1101.24 173.77,1102.39 174.32,1100.38 172.69,1099.09 174.77,1099.00" fill="#fff"/>
<line x1="289.30" y1="990.40" x2="289.30" y2="1019.00" stroke="#141414" stroke-width="1.9"/>
<line x1="279.80" y1="990.40" x2="298.80" y2="990.40" stroke="#141414" stroke-width="1.7"/>
<line x1="289.30" y1="1125.40" x2="289.30" y2="1163.40" stroke="#141414" stroke-width="1.9"/>
<line x1="279.80" y1="1163.40" x2="298.80" y2="1163.40" stroke="#141414" stroke-width="1.7"/>
<rect x="260.70" y="1019.00" width="57.20" height="106.40" fill="#a00028"/>
<polygon points="289.30,1082.25 290.03,1084.20 292.11,1084.29 290.48,1085.58 291.03,1087.59 289.30,1086.44 287.57,1087.59 288.12,1085.58 286.49,1084.29 288.57,1084.20" fill="#fff"/>
<line x1="402.50" y1="953.70" x2="402.50" y2="973.40" stroke="#141414" stroke-width="1.9"/>
<line x1="393.25" y1="953.70" x2="411.75" y2="953.70" stroke="#141414" stroke-width="1.7"/>
<line x1="402.50" y1="1013.20" x2="402.50" y2="1044.40" stroke="#141414" stroke-width="1.9"/>
<line x1="393.25" y1="1044.40" x2="411.75" y2="1044.40" stroke="#141414" stroke-width="1.7"/>
<rect x="373.90" y="973.40" width="57.20" height="39.80" fill="#a00028"/>
<line x1="373.90" y1="991.20" x2="431.10" y2="991.20" stroke="#141414" stroke-width="2.1"/>
<polygon points="402.50,994.65 403.23,996.60 405.31,996.69 403.68,997.98 404.23,999.99 402.50,998.84 400.77,999.99 401.32,997.98 399.69,996.69 401.77,996.60" fill="#fff"/>
<polygon points="402.30,903.40 404.50,905.60 402.30,907.80 400.10,905.60" fill="#141414"/>
<polygon points="402.30,1123.80 404.50,1126.00 402.30,1128.20 400.10,1126.00" fill="#141414"/>
<text x="180.33" y="863.00" font-size="17.2" textLength="53.34" lengthAdjust="spacingAndGlyphs" fill="#141414">CoALL</text>
<text x="238.84" y="863.00" font-size="17.2" textLength="45.22" lengthAdjust="spacingAndGlyphs" fill="#141414">07-03</text>
<text x="149.65" y="885.00" font-size="17.2" textLength="41.67" lengthAdjust="spacingAndGlyphs" fill="#141414">T-ALL</text>
<text x="197.09" y="885.00" font-size="17.2" textLength="59.71" lengthAdjust="spacingAndGlyphs" fill="#141414">patients</text>
<text x="262.77" y="885.00" font-size="17.2" textLength="14.69" lengthAdjust="spacingAndGlyphs" fill="#141414">(n</text>
<text x="275.76" y="885.00" font-size="17.2" textLength="15.21" lengthAdjust="spacingAndGlyphs" fill="#141414">=</text>
<text x="289.84" y="885.00" font-size="17.2" textLength="25.53" lengthAdjust="spacingAndGlyphs" fill="#141414">35)</text>
<text x="332.34" y="885.00" font-size="17.2" textLength="78.04" lengthAdjust="spacingAndGlyphs" fill="#141414">Spearman</text>
<text x="424.93" y="885.00" font-size="17.2" textLength="14.38" lengthAdjust="spacingAndGlyphs" fill="#141414">=</text>
<text x="437.94" y="885.00" font-size="17.2" textLength="34.37" lengthAdjust="spacingAndGlyphs" fill="#141414">0.64</text>
<text x="415.85" y="885.00" font-size="17.2" textLength="6.19" lengthAdjust="spacingAndGlyphs" fill="#141414">r</text>
<text transform="translate(15.22,38.00) scale(1.0763,1)" font-size="25.1" font-weight="bold" fill="#141414" style="stroke-width:0.8px">A</text>
<text transform="translate(15.23,453.70) scale(1.0450,1)" font-size="25.1" font-weight="bold" fill="#141414" style="stroke-width:0.8px">B</text>
<text transform="translate(15.82,870.20) scale(0.9793,1)" font-size="25.1" font-weight="bold" fill="#141414" style="stroke-width:0.8px">C</text>
</svg>
<div class="cl" style="font-size:19.5px;transform:translate(289.20px,391.70px) scaleX(0.7118) translate(-48.60px,-16.51px);word-spacing:3.0px;text-shadow:0.6px 0 0 #141414;-webkit-text-stroke:0.35px #141414">PVA Score</div>
<div class="cl" style="font-size:20.8px;transform:translate(51.80px,198.40px) rotate(-90deg) scaleX(0.7138) translate(-132.56px,-17.61px);word-spacing:0.0px;text-shadow:0.6px 0 0 #141414;-webkit-text-stroke:0.35px #141414">MRD end of induction -log10</div>
<div class="cl" style="font-size:19.5px;transform:translate(299.10px,808.30px) scaleX(0.7118) translate(-48.60px,-16.51px);word-spacing:3.0px;text-shadow:0.6px 0 0 #141414;-webkit-text-stroke:0.35px #141414">PVA Score</div>
<div class="cl" style="font-size:20.8px;transform:translate(51.80px,615.00px) rotate(-90deg) scaleX(0.7138) translate(-132.56px,-17.61px);word-spacing:0.0px;text-shadow:0.6px 0 0 #141414;-webkit-text-stroke:0.35px #141414">MRD end of induction -log10</div>
<div class="cl" style="font-size:19.5px;transform:translate(288.80px,1224.50px) scaleX(0.7118) translate(-48.60px,-16.51px);word-spacing:3.0px;text-shadow:0.6px 0 0 #141414;-webkit-text-stroke:0.35px #141414">PVA Score</div>
<div class="cl" style="font-size:20.8px;transform:translate(51.80px,1031.20px) rotate(-90deg) scaleX(0.7138) translate(-132.56px,-17.61px);word-spacing:0.0px;text-shadow:0.6px 0 0 #141414;-webkit-text-stroke:0.35px #141414">MRD end of induction -log10</div>
</div>
</body></html>
